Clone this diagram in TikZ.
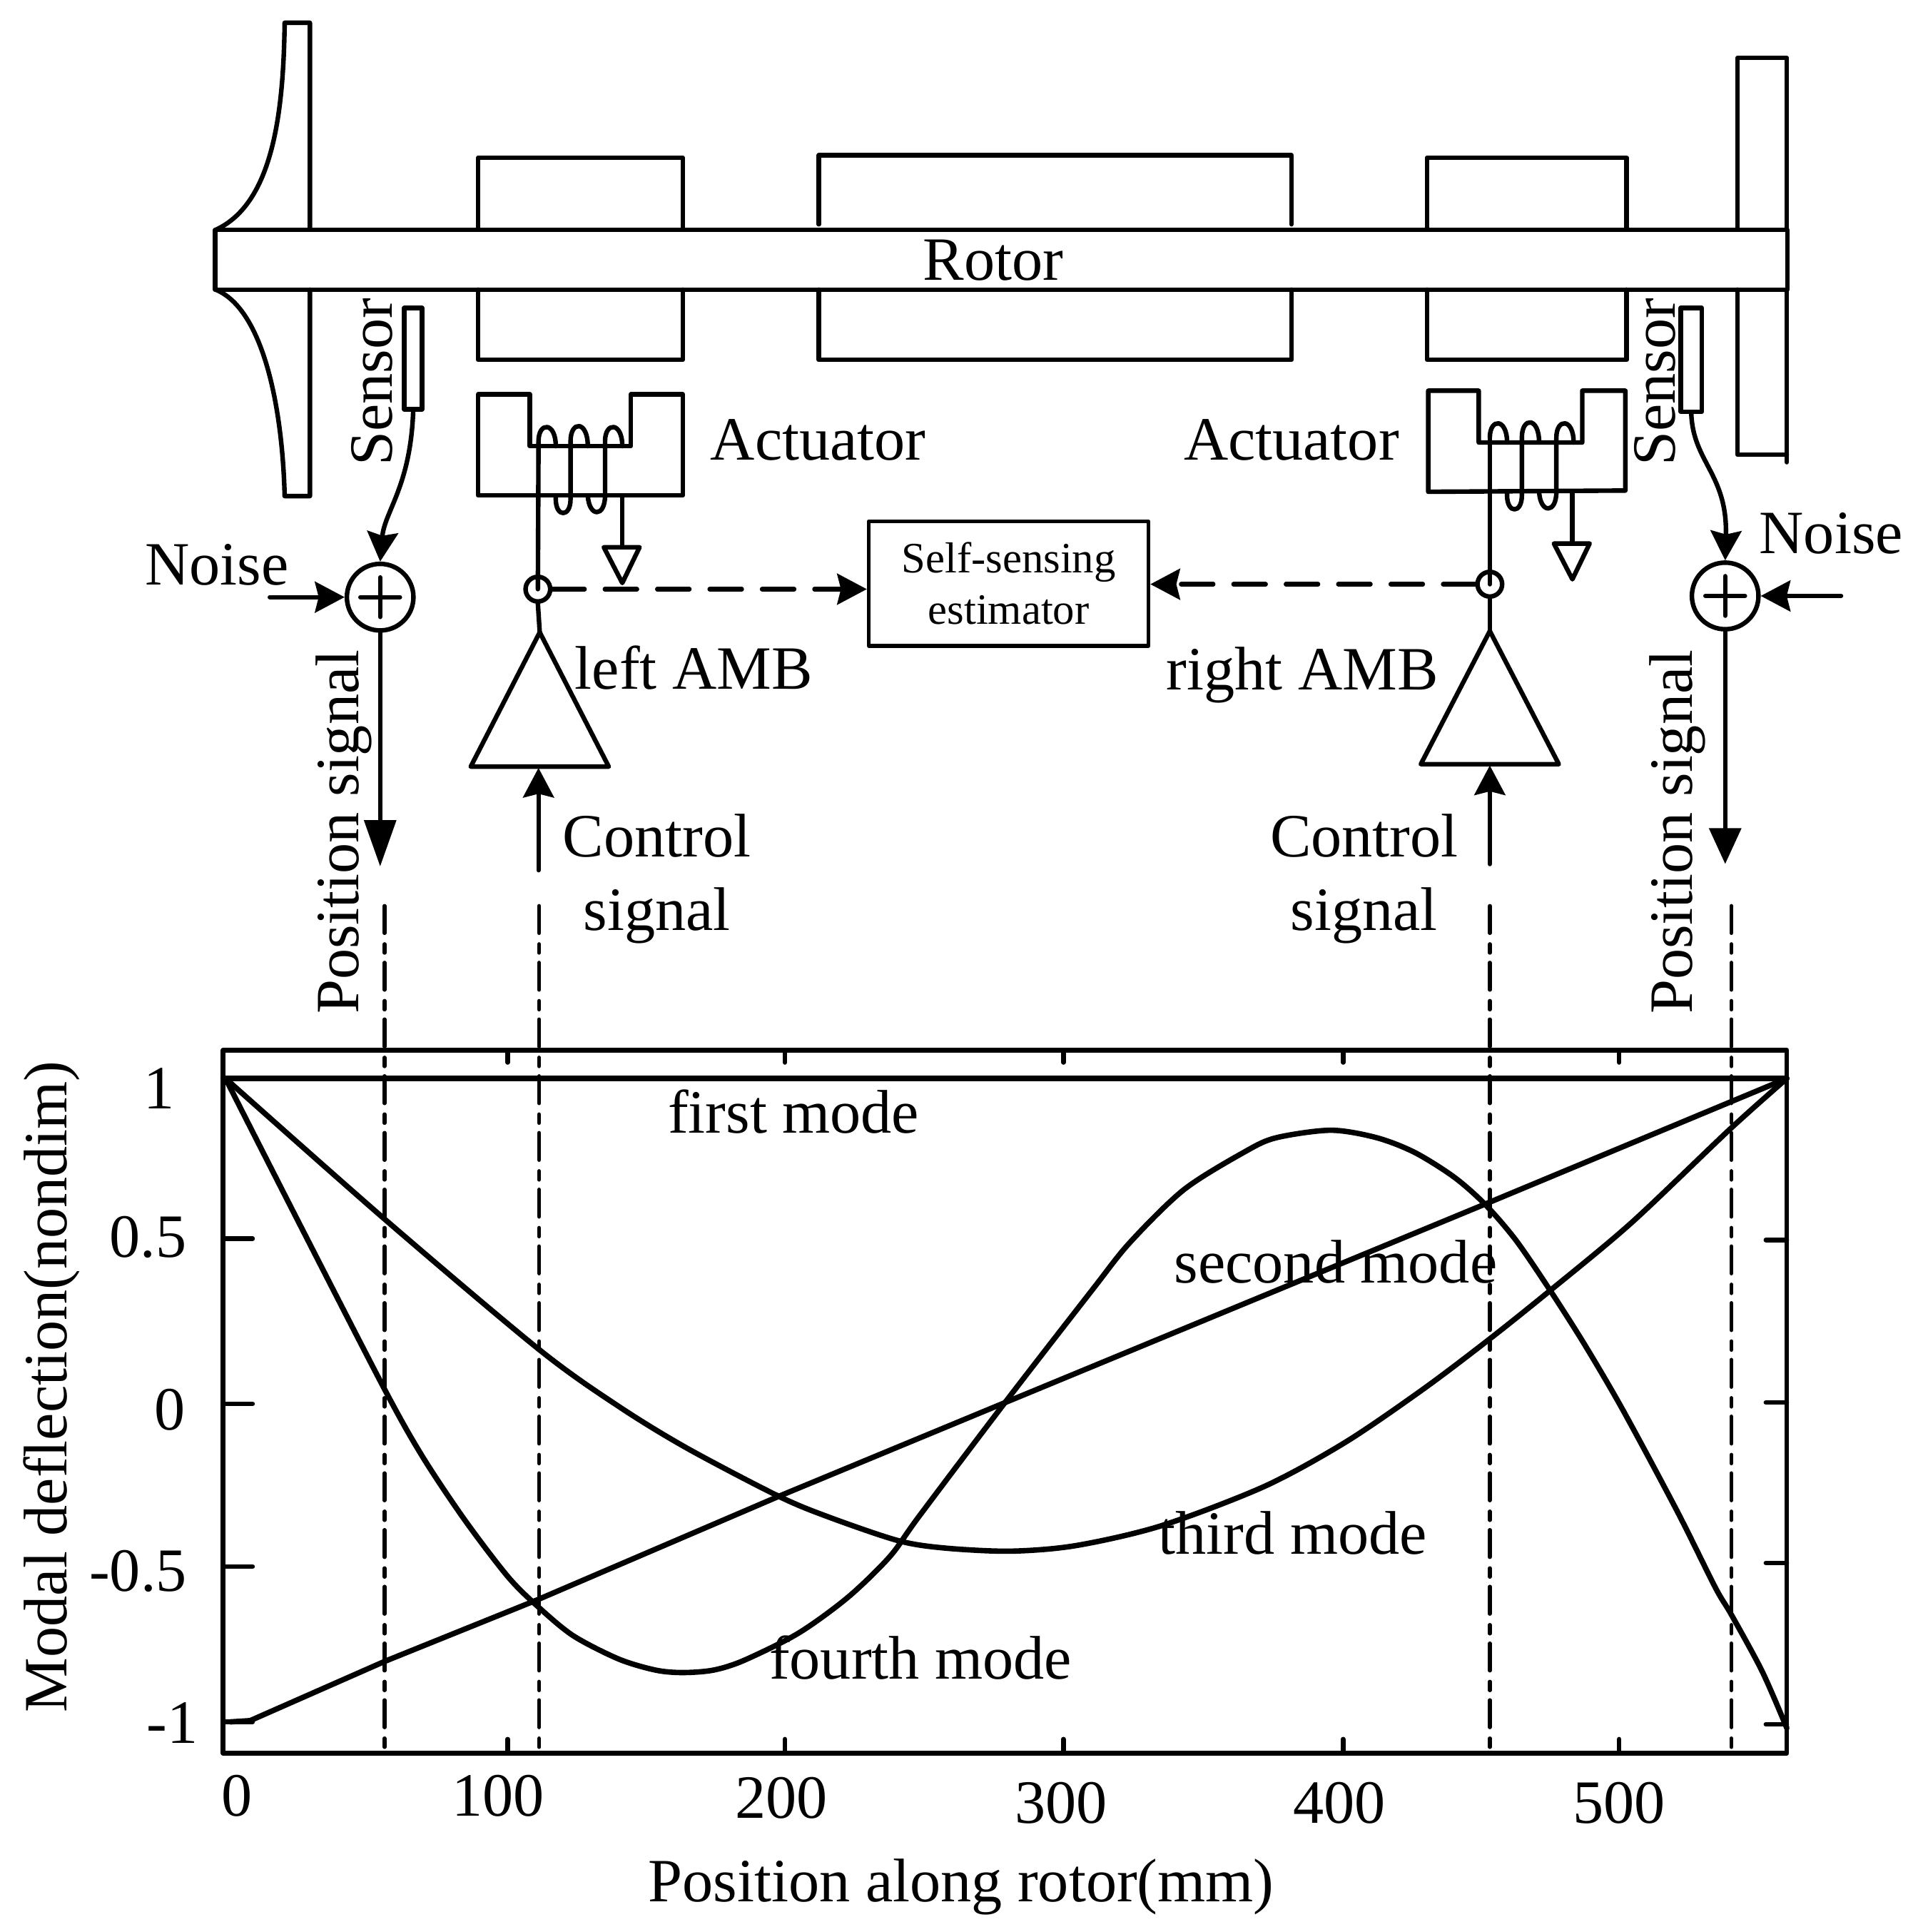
\documentclass[tikz,border=0pt]{standalone}
\usepackage{fontspec}
\setmainfont{Liberation Serif}
\usetikzlibrary{arrows.meta}
\newcommand{\coilwire}{%
  \draw (437,358) .. controls (437,342) and (451,342) .. (451,362);
  \draw (451,402) -- (451,405) .. controls (451,420) and (463,420) .. (463,405) -- (463,358) .. controls (463,341) and (477,341) .. (477,362);
  \draw (477,402) .. controls (478,420) and (491,420) .. (491,402) -- (491,358) .. controls (491,342) and (505,342) .. (505,362);
}
\begin{document}
\begin{tikzpicture}[x=0.01cm,y=-0.01cm,line width=1.05pt,line join=round,line cap=round,
  font=\fontsize{14.2}{17}\selectfont,>={Stealth[length=2.4mm,width=2.5mm,inset=0.3mm]},
  lbl/.style={inner sep=0pt,align=center},
  sumnd/.style={draw,circle,inner sep=0pt,minimum size=0.54cm,
    path picture={\draw (path picture bounding box.center)+(-16,0) -- +(16,0) (path picture bounding box.center)+(0,-16) -- +(0,16);}},
  tapnd/.style={draw,circle,inner sep=0pt,minimum size=0.2cm},
  guide/.style={line width=0.9pt,dash pattern=on 0.22cm off 0.09cm on 0.07cm off 0.08cm},
  dashln/.style={dash pattern=on 0.26cm off 0.165cm},
  modeln/.style={line width=1.25pt}]
  \useasboundingbox (0,0) rectangle (1560,1567.5);
  % left impeller and right disk
  \draw (251.5,186) -- (251.5,18.5) -- (231,18.5) .. controls (230,90) and (222,165) .. (175,186.5);
  \draw (175,235) .. controls (212,250) and (229,325) .. (231,402.5) -- (251.5,402.5) -- (251.5,235);
  \draw (1410,186) -- (1410,47) -- (1450,47) -- (1450,186);
  \draw (1410,235) -- (1410,369) -- (1450,369);
  \draw (1450,235) -- (1450,375);
  % rotor
  \node[draw,minimum width=12.75cm,minimum height=0.485cm,inner sep=0pt] (rotor) at (812.5,210.7) {};
  \node[lbl] (rotorlbl) at (806,211) {Rotor};
  % sleeves on the shaft
  \foreach \a/\b/\t/\e in {388/554/128/186,664.5/1048/126/182,1158/1320/128/186} {
    \draw (\a,\e) -- (\a,\t) -- (\b,\t) -- (\b,\e);
    \draw (\a,235) -- (\a,292) -- (\b,292) -- (\b,235);
  }
  % sensors
  \node[draw,minimum width=0.145cm,minimum height=0.82cm,inner sep=0pt] (sensL) at (335.3,291) {};
  \node[draw,minimum width=0.17cm,minimum height=0.84cm,inner sep=0pt] (sensR) at (1372.5,292) {};
  \node[lbl,rotate=90] (sensLlbl) at (302,310) {Sensor};
  \node[lbl,rotate=90] (sensRlbl) at (1343,310) {Sensor};
  % summing points
  \node[sumnd] (sumL) at (308.5,484.5) {};
  \node[sumnd] (sumR) at (1400,483.5) {};
  \node[lbl] (noiseLlbl) at (176,458) {Noise};
  \node[lbl] (noiseRlbl) at (1486,433) {Noise};
  \coordinate (noiseL) at (219,484.5);
  \coordinate (noiseR) at (1494,483.5);
  \coordinate (posL) at (308.5,703);
  \coordinate (posR) at (1400,701);
  \draw[->] (sensL.south) .. controls (333,395) and (312,415) .. (sumL.north);
  \draw[->] (sensR.south) .. controls (1374,375) and (1402,385) .. (sumR.north);
  \draw[->] (noiseL) -- (sumL.west);
  \draw[->] (noiseR) -- (sumR.east);
  \draw[-{Stealth[length=3.76mm,width=2.55mm,inset=0pt]}] (sumL.south) -- (posL);
  \draw[-{Stealth[length=2.9mm,width=2.55mm,inset=0pt]}] (sumR.south) -- (posR);
  \node[lbl,rotate=90] (posLlbl) at (279,675) {Position signal};
  \node[lbl,rotate=90] (posRlbl) at (1361,675) {Position signal};
  % actuators
  \draw (388,320) -- (430,320) -- (430,362) -- (512,362) -- (512,320) -- (554,320) -- (554,402) -- (388,402) -- cycle;
  \draw (1159,317) -- (1200,317) -- (1200,359) -- (1284,359) -- (1284,317) -- (1319,317) -- (1319,398) -- (1159,399) -- cycle;
  \coilwire
  \begin{scope}[shift={(772,-3)}]
    \coilwire
  \end{scope}
  \node[lbl] (actLlbl) at (664,357) {Actuator};
  \node[lbl] (actRlbl) at (1048,357) {Actuator};
  % ground leads
  \coordinate (gndL) at (505,444);
  \coordinate (gndR) at (1276,441);
  \draw (505,402) -- (gndL);
  \draw (1276,399) -- (gndR);
  \draw (490,444) -- (519,444) -- (505,473) -- cycle;
  \draw (1261,441) -- (1290,441) -- (1276,470) -- cycle;
  % estimator
  \node[draw,line width=0.85pt,minimum width=2.27cm,minimum height=1.01cm,inner sep=0pt,lbl,
    font=\fontsize{10}{11.9}\selectfont] (est) at (818.5,473.5) {Self-sensing\\estimator};
  \node[tapnd] (tapL) at (436.5,478) {};
  \node[tapnd] (tapR) at (1209,474) {};
  \draw (tapL.center) -- (437,358);
  \draw (tapR.center) -- (1209,355);
  \draw[->,dashln] (tapL.east) -- (tapL -| est.west);
  \draw[->,dashln] (tapR.west) -- (tapR -| est.east);
  % amplifiers
  \coordinate (apL) at (438,513);
  \coordinate (apR) at (1209,512);
  \draw (apL) -- (382,622) -- (494,622) -- cycle;
  \draw (apR) -- (1153,620) -- (1265,620) -- cycle;
  \draw (tapL.south) -- (apL);
  \draw (tapR.south) -- (apR);
  \coordinate (ctlL) at (437,706);
  \coordinate (ctlR) at (1209,701);
  \draw[->] (ctlL) -- (437,623);
  \draw[->] (ctlR) -- (1209,621);
  \node[lbl] (ampLlbl) at (563,542) {left AMB};
  \node[lbl] (ampRlbl) at (1057,548) {right AMB};
  \node[lbl] (ctlLlbl) at (533,713) {Control\\signal};
  \node[lbl] (ctlRlbl) at (1107,713) {Control\\signal};
  % plot
  \draw (181,852) rectangle (1450,1422.5);
  \foreach \x in {312,437.5,1209,1405}
    \draw[guide] (\x,735) -- (\x,1421);
  \foreach \x in {412,637,863,1090,1314} {
    \draw (\x,1422.5) -- (\x,1411);
    \draw (\x,852) -- (\x,862);
  }
  \foreach \y in {1005,1139,1271,1397}
    \draw (181,\y) -- ++(24,0);
  \foreach \y in {1006,1138,1268,1399}
    \draw (1450,\y) -- ++(-17,0);
  \foreach \x/\y/\t in {192/1457/0,404/1457/100,634/1459/200,861/1463/300,1087/1463/400,1314/1463/500}
    \node[lbl] at (\x,\y) {\t};
  \node[lbl] at (129,883) {1};
  \node[lbl] at (120,1004) {0.5};
  \node[lbl] at (138,1144) {0};
  \node[lbl] at (112,1275) {-0.5};
  \node[lbl] at (140,1398) {-1};
  \node[lbl] (xlbl) at (780,1531) {Position along rotor(mm)};
  \node[lbl,rotate=90] (ylbl) at (42,1125) {Modal deflection(nondim)};
  % mode shapes
  \draw[modeln] (181,875) -- (1450,875);
  \draw[modeln] (187,1397) -- (203,1396) -- (312,1348) -- (436,1298) -- (632,1214) -- (815.5,1138) -- (1205,977) -- (1450,875);
  \draw[modeln] plot[smooth,tension=0.5] coordinates {(183,875) (312,989) (437.6,1095) (502,1141) (557.6,1175) (632,1214) (673,1231) (729,1250) (767,1256) (820,1258.5) (873,1254) (942,1238) (1026,1206) (1092,1170) (1155,1127) (1208,1087) (1258,1047) (1324,992) (1404,916) (1450,875)};
  \draw[modeln] plot[smooth,tension=0.5] coordinates {(183,875) (240,987) (312,1127) (343,1182) (377,1233) (412,1279) (436,1303) (465,1327) (502,1346) (532,1355) (554,1357) (579,1355) (604,1347) (648,1325) (688,1296) (722,1263) (746,1230) (815.5,1138) (886,1047) (917,1008) (961,965) (1011,934) (1036,923) (1080,917) (1117,923) (1148,935) (1180,955) (1205,977) (1230,1006) (1258,1047) (1286,1091) (1317,1144) (1361,1226) (1392,1288) (1405,1310) (1430,1356) (1450,1402)};
  \node[lbl] (firstlbl) at (644,902) {first mode};
  \node[lbl] (secondlbl) at (1084,1024) {second mode};
  \node[lbl] (thirdlbl) at (1049,1244) {third mode};
  \node[lbl] (fourthlbl) at (747,1345) {fourth mode};
\end{tikzpicture}
\end{document}
